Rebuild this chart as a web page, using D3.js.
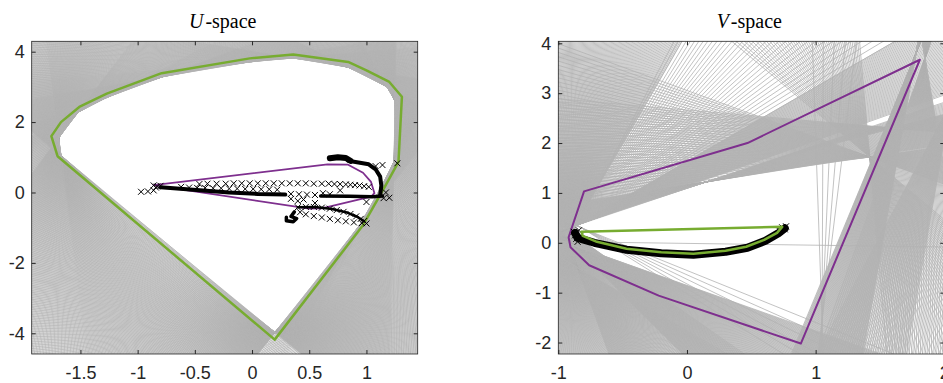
<!DOCTYPE html>
<html>
<head>
<meta charset="utf-8">
<script src="https://cdnjs.cloudflare.com/ajax/libs/d3/7.8.5/d3.min.js"></script>
<style>
  body { margin: 0; background: #fff; }
  .tick text { font-family: "Liberation Sans", Arial, sans-serif; font-size: 18px; fill: #262626; }
  .tick line { stroke: #262626; }
  .title { font-family: "Liberation Serif", "Times New Roman", serif; font-size: 20px; fill: #000; }
</style>
</head>
<body>
<div id="chart"></div>
<script>
var svgWidth = 943;
var svgHeight = 383;

// axes boxes in pixels (two subplots)
var uBox = {left: 31.7, right: 417.7, top: 41.3, bottom: 354};
var vBox = {left: 558.3, right: 944.3, top: 41.3, bottom: 354};

// axis limits and ticks
var uXDomain = [-1.926, 1.448];
var uYDomain = [-4.588, 4.295];
var vXDomain = [-1, 2];
var vYDomain = [-2.23, 4.04];
var uXTicks = [-1.5, -1, -0.5, 0, 0.5, 1];
var uYTicks = [-4, -2, 0, 2, 4];
var vXTicks = [-1, 0, 1, 2];
var vYTicks = [-2, -1, 0, 1, 2, 3, 4];

// ---------- U-space data ----------
// feasible (white) region, vertices in order; gray constraint lines are tangent to it
var uFeasible = [[-1.69, 1.55], [-1.52, 2.28], [-1.27, 2.70], [-0.78, 3.29], [-0.02, 3.71],
  [0.36, 3.82], [0.84, 3.56], [1.18, 3.0], [1.25, 2.6], [1.24, 0.87], [1.13, 0.16],
  [0.94, -0.93], [0.2, -3.97], [-1.67, 1.05]];
var uLineDensity = 2.5; // constraint lines per degree of turning

var uGreen = [[-1.754, 1.60], [-1.67, 2.0], [-1.51, 2.43], [-1.27, 2.81], [-0.79, 3.39],
  [-0.02, 3.81], [0.36, 3.92], [0.84, 3.71], [1.0, 3.47], [1.20, 3.14], [1.31, 2.72],
  [1.28, 0.87], [1.16, 0.16], [0.97, -0.93], [0.198, -4.18], [-1.70, 1.03], [-1.754, 1.60]];

var uPurple = [[-0.86, 0.21], [0.66, 0.80], [0.84, 0.79], [0.97, 0.56], [1.04, 0.30],
  [1.07, -0.02], [1.04, -0.12], [0.61, -0.45], [0.50, -0.46], [-0.78, 0.165], [-0.86, 0.21]];

// dense parts of the sampled trajectory (markers overlap into solid strokes)
var uTrailMain = [[-0.8, 0.15], [-0.6, 0.1], [-0.4, 0.05], [-0.2, 0.0], [0.05, -0.04], [0.29, -0.06]];
var uTrailRight = [[0.6, -0.1], [0.85, -0.11], [1.05, -0.12], [1.14, -0.1]];
var uTrailArc = [[0.84, 0.9], [0.93, 0.85], [1.02, 0.8], [1.08, 0.66], [1.12, 0.45], [1.13, 0.2], [1.12, -0.08]];
var uTrailBlob = [[0.68, 0.97], [0.75, 1.0], [0.82, 0.98], [0.86, 0.9]];
var uTrailKnot = [[0.3, -0.7], [0.3, -0.8], [0.36, -0.83], [0.39, -0.74], [0.34, -0.68], [0.37, -0.55]];
var uTrailLoop = [[0.4, -0.42], [0.55, -0.41], [0.7, -0.47], [0.82, -0.56], [0.92, -0.69], [0.98, -0.82]];

// individual samples
var uMarks = [
  // left blob
  [-0.86, 0.2], [-0.83, 0.17], [-0.8, 0.19], [-0.84, 0.14],
  // upper row
  [-0.46, 0.24], [-0.39, 0.25], [-0.31, 0.25], [-0.23, 0.25], [-0.16, 0.26], [-0.09, 0.26],
  [-0.02, 0.26], [0.05, 0.26], [0.12, 0.26], [0.19, 0.26], [0.26, 0.26], [0.33, 0.26],
  [0.40, 0.26], [0.47, 0.26], [0.54, 0.25], [0.61, 0.25], [0.67, 0.25], [0.72, 0.24],
  [0.77, 0.24], [0.82, 0.23], [0.86, 0.22], [0.9, 0.21], [0.94, 0.2], [0.98, 0.18], [1.02, 0.16],
  // second row
  [-0.62, 0.16], [-0.55, 0.14], [-0.48, 0.13], [-0.41, 0.13], [-0.34, 0.12], [-0.27, 0.12],
  [-0.2, 0.11], [-0.13, 0.11], [-0.06, 0.1], [0.01, 0.1], [0.08, 0.09], [0.15, 0.09], [0.22, 0.08],
  // left tail
  [-0.97, 0.02], [-0.91, 0.03], [-0.86, 0.06],
  // lower row after the dense band
  [0.34, -0.04], [0.41, -0.05], [0.48, -0.06], [0.55, -0.07], [0.34, -0.18], [0.40, -0.24],
  [0.45, -0.2], [0.55, -0.3], [0.62, -0.02], [0.77, 0.06], [0.68, -0.05],
  // loop upper branch
  [0.40, -0.42], [0.47, -0.41], [0.54, -0.41], [0.61, -0.43], [0.68, -0.46], [0.74, -0.5],
  [0.8, -0.55], [0.86, -0.61], [0.91, -0.68], [0.95, -0.75], [0.98, -0.81],
  // loop lower branch
  [0.42, -0.56], [0.47, -0.62], [0.54, -0.67], [0.61, -0.71], [0.68, -0.75], [0.75, -0.79],
  [0.82, -0.82], [0.89, -0.85], [0.96, -0.87], [1.0, -0.88],
  // outliers
  [1.14, 0.78], [1.27, 0.83], [1.15, -0.16], [1.2, -0.15], [1.0, -0.27], [1.17, 0.0], [1.08, 0.75]
];

// ---------- V-space data ----------
// constraint line fans: pivot (data), angle range (degrees, counter-clockwise), line count
var vFans = [
  {p: [-0.9, 0.2], a0: 60, a1: 145, n: 260},
  {p: [-0.85, -0.5], a0: 110, a1: 150, n: 80},
  {p: [-0.86, 0.35], a0: 19.5, a1: 30, n: 60},
  {p: [-0.86, 0.35], a0: 30, a1: 62, n: 35},
  {p: [0.15, 1.22], a0: 9, a1: 18.5, n: 40},
  {p: [1.42, 1.72], a0: 160, a1: 188, n: 40},
  {p: [1.6, 2.3], a0: -5, a1: 15, n: 40},
  {p: [1.78, 3.8], a0: 67.5, a1: 80, n: 90},
  {p: [1.85, 3.7], a0: 70, a1: 100, n: 70},
  {p: [2.05, 2.8], a0: 62, a1: 80, n: 50},
  {p: [1.42, 1.72], a0: 95, a1: 140, n: 50},
  {p: [-0.88, -0.05], a0: -45, a1: -19.5, n: 150},
  {p: [-0.82, 0.3], a0: -32, a1: -22, n: 6},
  {p: [-0.9, 0.02], a0: -0.8, a1: -0.8, n: 1},
  {p: [1.05, -1.56], a0: 83, a1: 92, n: 5}
];

var vPurple = [[-0.80, 1.03], [0.47, 2.0], [1.81, 3.67], [0.885, -2.02], [-0.22, -1.06],
  [-0.76, -0.45], [-0.905, -0.09], [-0.92, 0.11], [-0.80, 1.03]];

var vGreen = [[0.74, 0.32], [-0.82, 0.22], [-0.81, 0.14], [-0.7, 0.02], [-0.47, -0.12],
  [-0.2, -0.19], [0.05, -0.22], [0.3, -0.16], [0.46, -0.08], [0.6, 0.06], [0.70, 0.20], [0.74, 0.32]];

var vTrail = [[-0.87, 0.2], [-0.85, 0.1], [-0.72, 0.0], [-0.47, -0.14], [-0.2, -0.21],
  [0.05, -0.24], [0.3, -0.18], [0.47, -0.1], [0.61, 0.04], [0.71, 0.19], [0.76, 0.29]];

var vMarks = [[-0.88, 0.22], [-0.87, 0.15], [-0.86, 0.08], [-0.84, 0.25], [-0.85, 0.02],
  [-0.83, 0.12], [0.74, 0.31], [0.76, 0.27], [0.72, 0.24], [0.77, 0.33]];

var gray = "#b3b3b3";
var green = "#77ac30";
var purple = "#7e2f8e";
var axisColor = "#262626";

var svg = d3.select("#chart")
  .append("svg")
  .attr("width", svgWidth)
  .attr("height", svgHeight);

// Create a subplot: group, scales and a clipped layer for the data
function makePanel(box, xDomain, yDomain, id) {
  var w = box.right - box.left;
  var h = box.bottom - box.top;
  var g = svg.append("g").attr("transform", `translate(${box.left}, ${box.top})`);
  var x = d3.scaleLinear().domain(xDomain).range([0, w]);
  var y = d3.scaleLinear().domain(yDomain).range([h, 0]);

  svg.append("clipPath").attr("id", id)
    .append("rect").attr("width", w).attr("height", h);

  var plot = g.append("g").attr("clip-path", `url(#${id})`);
  return {g: g, x: x, y: y, w: w, h: h, plot: plot};
}

// one long segment through a pivot (pixel space), angle in screen radians
function fullLine(px, py, a) {
  var dx = Math.cos(a) * 2000, dy = Math.sin(a) * 2000;
  return [px - dx, py - dy, px + dx, py + dy];
}

function drawLines(panel, segs, width) {
  panel.plot.append("g")
    .selectAll("line")
    .data(segs)
    .enter()
    .append("line")
    .attr("x1", d => d[0]).attr("y1", d => d[1])
    .attr("x2", d => d[2]).attr("y2", d => d[3])
    .attr("stroke", gray)
    .attr("stroke-width", width);
}

function drawPath(panel, pts, color, width) {
  var line = d3.line().x(d => panel.x(d[0])).y(d => panel.y(d[1]));
  panel.plot.append("path")
    .attr("d", line(pts))
    .attr("fill", "none")
    .attr("stroke", color)
    .attr("stroke-width", width)
    .attr("stroke-linejoin", "round")
    .attr("stroke-linecap", "round");
}

function drawMarks(panel, pts, size) {
  panel.plot.append("g")
    .selectAll("path")
    .data(pts)
    .enter()
    .append("path")
    .attr("transform", d => `translate(${panel.x(d[0])}, ${panel.y(d[1])})`)
    .attr("d", `M${-size},${-size}L${size},${size}M${-size},${size}L${size},${-size}`)
    .attr("stroke", "#000")
    .attr("stroke-width", 1)
    .attr("fill", "none");
}

function drawAxes(panel, xTicks, yTicks, titleItalic) {
  var fmt = d => String(d);
  var bottom = panel.g.append("g")
    .attr("transform", `translate(0, ${panel.h})`)
    .call(d3.axisBottom(panel.x).tickValues(xTicks).tickSize(-4).tickPadding(12).tickFormat(fmt));
  var left = panel.g.append("g")
    .call(d3.axisLeft(panel.y).tickValues(yTicks).tickSize(-4).tickPadding(7).tickFormat(fmt));
  var top = panel.g.append("g")
    .call(d3.axisTop(panel.x).tickValues(xTicks).tickSize(-4).tickFormat(""));
  var right = panel.g.append("g")
    .attr("transform", `translate(${panel.w}, 0)`)
    .call(d3.axisRight(panel.y).tickValues(yTicks).tickSize(-4).tickFormat(""));
  [bottom, left, top, right].forEach(function(a) { a.select(".domain").remove(); });

  panel.g.append("rect")
    .attr("width", panel.w)
    .attr("height", panel.h)
    .attr("fill", "none")
    .attr("stroke", axisColor)
    .attr("stroke-width", 0.8);

  var title = panel.g.append("text")
    .attr("class", "title")
    .attr("x", panel.w / 2 - 2)
    .attr("y", -13)
    .attr("text-anchor", "middle");
  title.append("tspan").attr("font-style", "italic").text(titleItalic);
  title.append("tspan").attr("dx", 2).text("-space");
}

// ================= U-space =================
var uPanel = makePanel(uBox, uXDomain, uYDomain, "clipU");

// Step 1: constraint lines tangent at each vertex of the feasible region
var uPix = uFeasible.map(d => [uPanel.x(d[0]), uPanel.y(d[1])]);
var uSegs = [];
uPix.forEach(function(p, i) {
  var prev = uPix[(i - 1 + uPix.length) % uPix.length];
  var next = uPix[(i + 1) % uPix.length];
  var aIn = Math.atan2(p[1] - prev[1], p[0] - prev[0]);
  var aOut = Math.atan2(next[1] - p[1], next[0] - p[0]);
  if (aOut < aIn) aOut += 2 * Math.PI;
  var turn = (aOut - aIn) * 180 / Math.PI;
  var n = Math.max(1, Math.round(turn * uLineDensity));
  for (var k = 0; k < n; k++) {
    uSegs.push(fullLine(p[0], p[1], aIn + (aOut - aIn) * (k + 0.5) / n));
  }
});
drawLines(uPanel, uSegs, 0.7);

// Step 2: hulls and trajectory
drawPath(uPanel, uGreen, green, 2.5);
drawPath(uPanel, uPurple, purple, 1.8);
drawPath(uPanel, uTrailMain, "#000", 4);
drawPath(uPanel, uTrailRight, "#000", 3.5);
drawPath(uPanel, uTrailArc, "#000", 4);
drawPath(uPanel, uTrailBlob, "#000", 6);
drawPath(uPanel, uTrailKnot, "#000", 3.5);
drawPath(uPanel, uTrailLoop, "#000", 2.5);
drawMarks(uPanel, uMarks, 3);

// Step 3: axes
drawAxes(uPanel, uXTicks, uYTicks, "U");

// ================= V-space =================
var vPanel = makePanel(vBox, vXDomain, vYDomain, "clipV");

var vSegs = [];
vFans.forEach(function(f) {
  var px = vPanel.x(f.p[0]), py = vPanel.y(f.p[1]);
  for (var k = 0; k < f.n; k++) {
    var t = f.n === 1 ? 0.5 : k / (f.n - 1);
    var a = -(f.a0 + (f.a1 - f.a0) * t) * Math.PI / 180;
    vSegs.push(fullLine(px, py, a));
  }
});
drawLines(vPanel, vSegs, 0.8);

drawPath(vPanel, vPurple, purple, 2);
drawPath(vPanel, vTrail, "#000", 8);
drawMarks(vPanel, vMarks, 3);
drawPath(vPanel, vGreen, green, 2.5);

drawAxes(vPanel, vXTicks, vYTicks, "V");
</script>
</body>
</html>
